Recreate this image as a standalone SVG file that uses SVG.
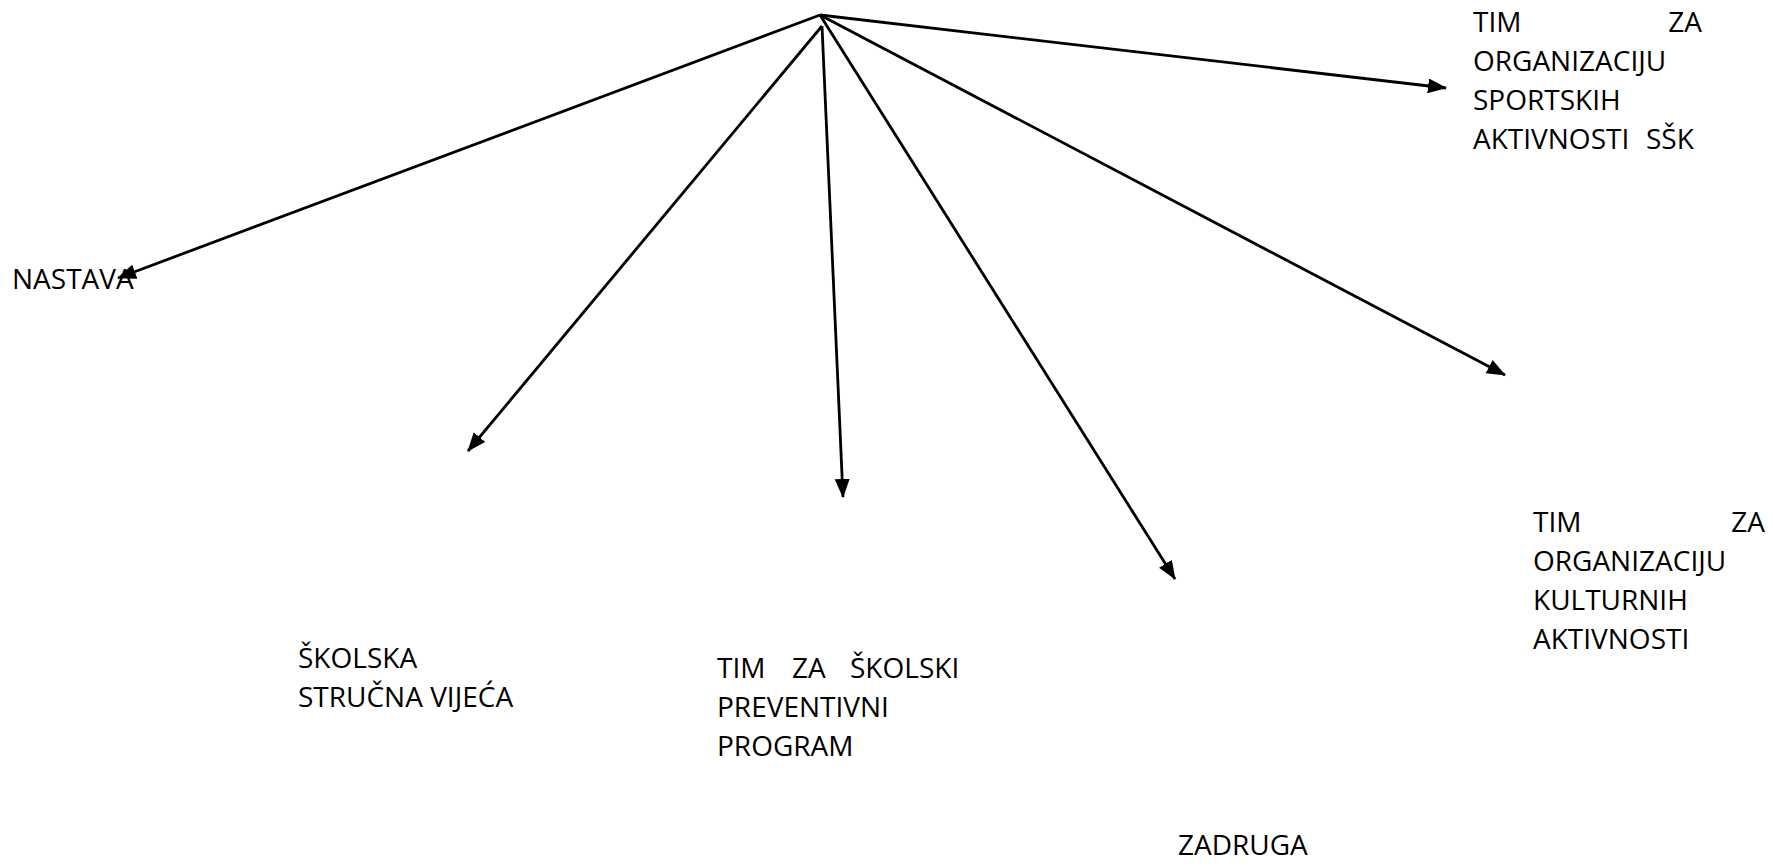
<svg xmlns="http://www.w3.org/2000/svg" width="1780" height="866" viewBox="0 0 1780 866">
<defs>
<marker id="arr" markerUnits="userSpaceOnUse" markerWidth="20" markerHeight="16" refX="18" refY="7.5" orient="auto">
<path d="M0,0 L19,7.5 L0,15 z" fill="#000"/>
</marker>
<style>
text{font-family:"Open Sans","Liberation Sans",sans-serif;font-size:28px;fill:#000}
.c line{stroke:#000;stroke-width:2.8;marker-end:url(#arr)}
</style>
</defs>
<rect width="1780" height="866" fill="#fff"/>
<g id="connectors" class="c">
<line x1="820" y1="15" x2="118" y2="278"/>
<line x1="822" y1="26" x2="468" y2="451"/>
<line x1="822" y1="26" x2="843" y2="497"/>
<line x1="820" y1="15" x2="1175" y2="579"/>
<line x1="820" y1="15" x2="1505" y2="375"/>
<line x1="820" y1="15" x2="1446" y2="88"/>
</g>
<g id="nastava"><text x="12" y="289">NASTAVA</text></g>
<g id="sportske">
<text x="1473" y="32">TIM</text>
<text x="1702" y="32" text-anchor="end">ZA</text>
<text x="1473" y="71">ORGANIZACIJU</text>
<text x="1473" y="110">SPORTSKIH</text>
<text x="1473" y="149">AKTIVNOSTI<tspan x="1646">SŠK</tspan></text>
</g>
<g id="kulturne">
<text x="1533" y="532">TIM</text>
<text x="1765" y="532" text-anchor="end">ZA</text>
<text x="1533" y="571">ORGANIZACIJU</text>
<text x="1533" y="610">KULTURNIH</text>
<text x="1533" y="649">AKTIVNOSTI</text>
</g>
<g id="vijeca">
<text x="298" y="668">ŠKOLSKA</text>
<text x="298" y="707">STRUČNA VIJEĆA</text>
</g>
<g id="preventivni">
<text x="717" y="678">TIM<tspan x="792">ZA</tspan><tspan x="850">ŠKOLSKI</tspan></text>
<text x="717" y="717">PREVENTIVNI</text>
<text x="717" y="756">PROGRAM</text>
</g>
<g id="zadruga"><text x="1178" y="855">ZADRUGA</text></g>
</svg>
